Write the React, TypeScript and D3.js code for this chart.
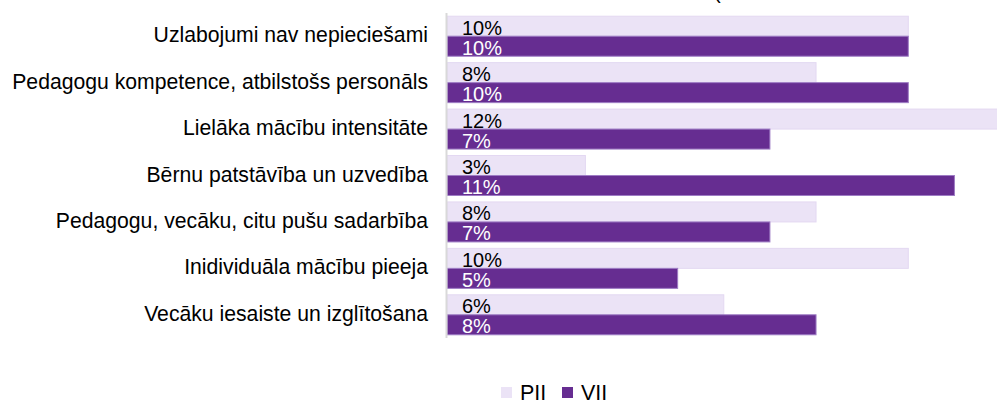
import React from "react";
import * as d3 from "d3";

const categories = [
  "Uzlabojumi nav nepieciešami",
  "Pedagogu kompetence, atbilstošs personāls",
  "Lielāka mācību intensitāte",
  "Bērnu patstāvība un uzvedība",
  "Pedagogu, vecāku, citu pušu sadarbība",
  "Inidividuāla mācību pieeja",
  "Vecāku iesaiste un izglītošana",
];
const seriesNames = ["PII", "VII"];
const piiValues = [10, 8, 12, 3, 8, 10, 6];
const viiValues = [10, 10, 7, 11, 7, 5, 8];
const colors = ["#ebe3f6", "#662d91"];
const strokes = ["#e3d8f2", "#9e7cc4"];
const labelColors = ["#000000", "#ffffff"];

const W = 997;
const H = 400;
const FONT = "Arial, 'Liberation Sans', sans-serif";

export default function App() {
  const x = d3.scaleLinear().domain([0, 10]).range([447, 908.3]);
  const y = d3
    .scaleBand<string>()
    .domain(categories)
    .range([13, 338])
    .paddingInner(0.1385)
    .paddingOuter(0.0692);
  const sub = d3.scaleBand<string>().domain(seriesNames).range([0, y.bandwidth()]);
  const series = [piiValues, viiValues];

  return (
    <svg
      width={W}
      height={H}
      style={{ position: "absolute", left: 0, top: 0, display: "block" }}
      fontFamily={FONT}
    >
      <rect x={0} y={0} width={W} height={H} fill="#ffffff" />
      <text x={714} y={-1} fontSize={20} fill="#000">(</text>
      {categories.map((c, i) => {
        const y0 = y(c)!;
        return (
          <g key={c}>
            <text
              x={428}
              y={y0 + y.bandwidth() / 2 + 6}
              textAnchor="end"
              fontSize={21.2}
              fill="#000"
            >
              {c}
            </text>
            {series.map((vals, s) => {
              const by = y0 + sub(seriesNames[s])!;
              const bh = sub.bandwidth();
              return (
                <g key={s}>
                  <rect
                    x={x(0)}
                    y={by}
                    width={x(vals[i]) - x(0)}
                    height={bh}
                    fill={colors[s]}
                    stroke={strokes[s]}
                    strokeWidth={1}
                  />
                  <text
                    x={x(0) + 15}
                    y={by + bh - 1.5}
                    fontSize={20}
                    fill={labelColors[s]}
                  >
                    {vals[i] + "%"}
                  </text>
                </g>
              );
            })}
          </g>
        );
      })}
      <line x1={446.5} x2={446.5} y1={13} y2={338} stroke="#d9d9d9" strokeWidth={2} />
      {seriesNames.map((n, s) => {
        const lx = s === 0 ? 501 : 562;
        return (
          <g key={n}>
            <rect x={lx} y={387} width={11} height={11} fill={colors[s]} />
            <text x={lx + 19} y={400} fontSize={21.5} fill="#000">
              {n}
            </text>
          </g>
        );
      })}
    </svg>
  );
}
